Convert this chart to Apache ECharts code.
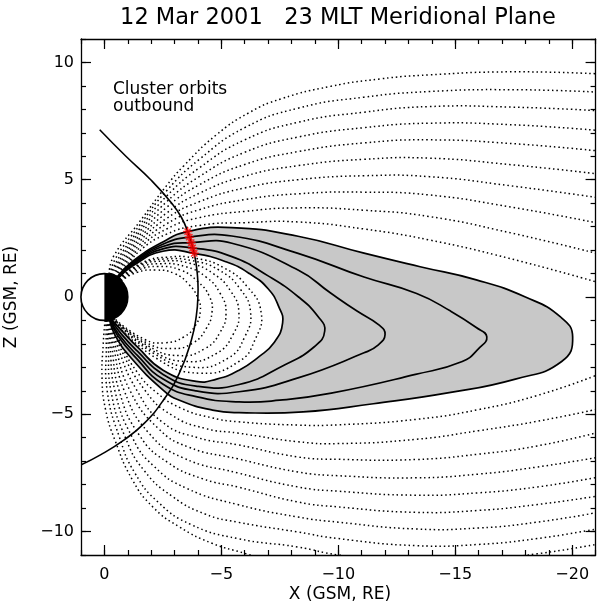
<!DOCTYPE html>
<html><head><meta charset="utf-8">
<script src="https://cdn.jsdelivr.net/npm/echarts@6/dist/echarts.min.js"></script>
<style>html,body{margin:0;padding:0;background:#fff}#c{width:597px;height:606px}</style>
</head><body><div id="c"></div>
<script>
// ---- tick values ----
const xMajorTicks = [-20, -15, -10, -5, 0];
const xMinorTicks = [-21,-20,-19,-18,-17,-16,-15,-14,-13,-12,-11,-10,-9,-8,-7,-6,-5,-4,-3,-2,-1,0,1];
const yMajorTicks = [-10, -5, 0, 5, 10];
const yMinorTicks = [-11,-10,-9,-8,-7,-6,-5,-4,-3,-2,-1,0,1,2,3,4,5,6,7,8,9,10,11];

// ---- Earth ----
const earthCenter = [0, 0];
const earthRadius = [1];

// ---- Cluster orbit arc and spacecraft positions ----
const orbitArc = [[0.2,7.13],[-0.92,6.0],[-1.98,5.0],[-2.88,4.0],[-3.29,3.4],[-3.56,2.79],[-3.84,1.86],[-3.98,0.9],[-4.0,0.1],[-3.93,-0.8],[-3.72,-1.83],[-3.2,-3.26],[-2.52,-4.4],[-1.7,-5.39],[-0.83,-6.1],[0.17,-6.73],[1.03,-7.17]];
const clusterMarkers = [[-3.56,2.79],[-3.63,2.55],[-3.71,2.32],[-3.77,2.09],[-3.84,1.86]];

// ---- solid field lines through the spacecraft (inner S1 -> outer S5) ----
const solidS1 = [[-0.6,0.8],[-1.2,1.32],[-2.5,1.95],[-3.84,1.86],[-5.2,1.5],[-6.2,1.0],[-7.0,0.35],[-7.45,-0.4],[-7.62,-1.1],[-7.25,-1.95],[-6.6,-2.55],[-5.76,-3.12],[-4.8,-3.5],[-3.92,-3.6],[-2.51,-3.12],[-1.4,-2.12],[-0.8,-1.5],[-0.3,-0.955]];
const solidS2 = [[-0.58,0.815],[-1.2,1.37],[-2.5,2.05],[-3.77,2.09],[-5.45,1.72],[-7.0,0.9],[-8.3,0.0],[-9.15,-0.85],[-9.42,-1.45],[-9.0,-2.1],[-7.7,-2.9],[-5.76,-3.73],[-3.92,-3.8],[-2.51,-3.3],[-1.4,-2.3],[-0.7,-1.55],[-0.28,-0.96]];
const solidS3 = [[-0.565,0.825],[-1.2,1.42],[-2.5,2.15],[-3.71,2.32],[-5.45,2.29],[-8.28,1.15],[-9.67,0.17],[-10.8,-0.6],[-11.75,-1.2],[-12.0,-1.6],[-11.7,-2.05],[-11.1,-2.38],[-8.28,-3.45],[-5.76,-4.04],[-3.92,-4.0],[-2.51,-3.5],[-1.4,-2.48],[-0.62,-1.6],[-0.26,-0.966]];
const solidS4 = [[-0.55,0.835],[-1.2,1.47],[-2.5,2.25],[-3.63,2.55],[-5.45,2.6],[-8.28,1.86],[-11.1,0.85],[-13.35,0.15],[-14.8,-0.6],[-15.9,-1.3],[-16.35,-1.7],[-16.0,-2.2],[-15.3,-2.75],[-13.3,-3.3],[-9.7,-4.1],[-7.5,-4.4],[-5.76,-4.47],[-3.92,-4.25],[-2.51,-3.72],[-1.4,-2.65],[-0.55,-1.62],[-0.24,-0.971]];
const solidS5 = [[-0.535,0.845],[-1.2,1.52],[-2.5,2.35],[-3.56,2.79],[-5.45,2.96],[-8.28,2.59],[-11.1,1.87],[-13.5,1.29],[-15.9,0.73],[-18.0,0.0],[-19.5,-0.85],[-20.02,-1.7],[-19.55,-2.75],[-17.57,-3.5],[-14.74,-4.08],[-11.5,-4.55],[-8.5,-4.9],[-5.76,-4.93],[-4.62,-4.82],[-3.21,-4.4],[-2.51,-3.97],[-1.1,-2.55],[-0.45,-1.62],[-0.22,-0.976]];

// ---- dotted closed field lines inside S1 ----
const closedC1 = [[-0.72,0.69],[-1.4,1.05],[-2.2,1.15],[-3.0,1.0],[-3.6,0.55],[-4.0,-0.05],[-4.1,-0.6],[-3.9,-1.2],[-3.4,-1.7],[-2.6,-1.95],[-1.7,-1.8],[-0.42,-0.91]];
const closedC2 = [[-0.7,0.71],[-1.45,1.15],[-2.3,1.3],[-3.25,1.15],[-4.0,0.65],[-4.5,0.0],[-4.6,-0.65],[-4.35,-1.35],[-3.8,-1.95],[-2.9,-2.2],[-1.8,-1.95],[-0.4,-0.92]];
const closedC3 = [[-0.68,0.73],[-1.5,1.25],[-2.4,1.42],[-3.45,1.3],[-4.35,0.85],[-4.95,0.15],[-5.2,-0.65],[-4.95,-1.5],[-4.3,-2.2],[-3.2,-2.5],[-1.9,-2.1],[-0.38,-0.93]];
const closedC4 = [[-0.66,0.75],[-1.55,1.35],[-2.5,1.53],[-3.6,1.45],[-4.65,1.0],[-5.4,0.25],[-5.75,-0.65],[-5.5,-1.6],[-4.8,-2.4],[-3.5,-2.75],[-2.0,-2.25],[-0.36,-0.93]];
const closedC5 = [[-0.64,0.77],[-1.6,1.42],[-2.6,1.62],[-3.75,1.55],[-4.9,1.15],[-5.8,0.35],[-6.25,-0.65],[-6.0,-1.7],[-5.3,-2.6],[-3.8,-3.0],[-2.1,-2.4],[-0.34,-0.94]];
const closedC6 = [[-0.62,0.78],[-1.65,1.48],[-2.7,1.7],[-3.9,1.65],[-5.1,1.25],[-6.1,0.45],[-6.7,-0.65],[-6.45,-1.8],[-5.75,-2.75],[-4.1,-3.25],[-2.2,-2.6],[-0.32,-0.95]];

// ---- dotted northern lobe lines ----
const northU1 = [[-0.52,0.855],[-0.9,1.2],[-1.5,1.96],[-2.66,2.68],[-4.05,3.05],[-6,3.17],[-8.28,3.2],[-11.1,2.9],[-13.9,2.43],[-17.3,1.65],[-21,0.65]];
const northU2 = [[-0.49,0.87],[-0.85,1.23],[-1.5,2.09],[-2.66,2.9],[-4.05,3.38],[-6,3.65],[-8.28,3.8],[-11.1,3.7],[-13.9,3.43],[-17.3,2.75],[-21,1.87]];
const northU3 = [[-0.46,0.888],[-0.8,1.28],[-1.5,2.22],[-2.66,3.12],[-4.05,3.72],[-6,4.15],[-8.28,4.4],[-11.1,4.47],[-13.9,4.35],[-17.3,3.85],[-21,3.17]];
const northU4 = [[-0.43,0.9],[-0.75,1.33],[-1.5,2.36],[-2.66,3.35],[-4.05,4.06],[-6,4.65],[-8.28,5.0],[-11.1,5.17],[-13.9,5.13],[-17.3,4.75],[-21,4.25]];
const northU5 = [[-0.4,0.915],[-0.7,1.38],[-1.5,2.49],[-2.66,3.58],[-4.05,4.42],[-6,5.15],[-8.28,5.6],[-11.1,5.87],[-13.9,5.92],[-17.3,5.65],[-21,5.26]];
const northU6 = [[-0.37,0.93],[-0.65,1.44],[-1.5,2.63],[-2.66,3.82],[-4.05,4.78],[-6,5.65],[-8.28,6.2],[-11.1,6.57],[-13.9,6.7],[-17.3,6.55],[-21,6.24]];
const northU7 = [[-0.33,0.944],[-0.6,1.5],[-1.5,2.77],[-2.66,4.06],[-4.05,5.13],[-6,6.17],[-8.28,6.82],[-11.1,7.22],[-13.9,7.41],[-17.3,7.35],[-21,7.11]];
const northU8 = [[-0.29,0.957],[-0.55,1.57],[-1.5,2.9],[-2.66,4.3],[-4.05,5.5],[-6,6.7],[-8.28,7.45],[-11.1,7.88],[-13.9,8.12],[-17.3,8.1],[-21,7.95]];
const northU9 = [[-0.25,0.968],[-0.48,1.65],[-1.5,3.05],[-2.66,4.53],[-4.05,5.86],[-6,7.22],[-8.28,8.05],[-11.1,8.52],[-13.9,8.76],[-17.3,8.84],[-21,8.74]];
const northU10 = [[-0.2,0.98],[-0.4,1.75],[-1.5,3.2],[-2.66,4.75],[-3.4,5.6],[-4.77,6.9],[-6.17,7.85],[-7.56,8.45],[-9.67,8.98],[-11.8,9.3],[-13.9,9.47],[-17.3,9.6],[-21,9.52]];

// ---- dotted southern lobe lines ----
const southL1 = [[-0.3,-0.95],[-0.7,-2],[-1.4,-3.2],[-2.2,-4.05],[-3.3,-4.75],[-4.6,-5.15],[-5.7,-5.32],[-8.28,-5.46],[-10,-5.45],[-13.3,-5.22],[-16,-4.8],[-18.5,-4.2],[-21,-3.35]];
const southL2 = [[-0.27,-0.96],[-0.6,-2],[-1.75,-4],[-2.9,-5.05],[-4.3,-5.6],[-5.7,-5.8],[-8.28,-6.17],[-10,-6.25],[-13.3,-6.07],[-16,-5.7],[-18.5,-5.3],[-21,-4.8]];
const southL3 = [[-0.24,-0.97],[-0.52,-2],[-1.4,-4],[-2.5,-5.35],[-4.0,-6.0],[-5.7,-6.3],[-8.28,-6.82],[-10,-6.92],[-13.3,-6.93],[-16,-6.7],[-18.5,-6.35],[-21,-5.8]];
const southL4 = [[-0.21,-0.98],[-0.44,-2],[-1.1,-4],[-2.3,-5.6],[-3.6,-6.4],[-5.7,-6.9],[-8.28,-7.46],[-10,-7.62],[-13.3,-7.71],[-16,-7.55],[-18.5,-7.25],[-21,-6.85]];
const southL5 = [[-0.18,-0.98],[-0.37,-2],[-0.85,-4],[-1.9,-5.8],[-3.35,-6.85],[-5.7,-7.5],[-8.28,-8.1],[-10,-8.28],[-13.3,-8.45],[-16,-8.35],[-18.5,-8.1],[-21,-7.7]];
const southL6 = [[-0.15,-0.99],[-0.3,-2],[-0.63,-4],[-1.5,-5.9],[-2.7,-7.05],[-4.2,-7.75],[-5.7,-8.1],[-8.28,-8.74],[-10,-8.95],[-13.3,-9.18],[-16,-9.1],[-18.5,-8.85],[-21,-8.5]];
const southL7 = [[-0.12,-0.99],[-0.23,-2],[-0.45,-4],[-1.2,-6.0],[-2.1,-7.2],[-3.5,-8.15],[-5.7,-8.85],[-8.28,-9.38],[-10,-9.6],[-13.3,-9.89],[-16,-9.85],[-18.5,-9.6],[-21,-9.2]];
const southL8 = [[-0.09,-1.0],[-0.16,-2],[-0.28,-4],[-0.9,-6.0],[-1.7,-7.4],[-2.9,-8.5],[-4.3,-9.25],[-5.7,-9.6],[-8.28,-10.02],[-10,-10.3],[-13.3,-10.6],[-16,-10.55],[-18.5,-10.3],[-21,-9.9]];
const southL9 = [[-0.06,-1.0],[-0.08,-2],[-0.12,-4],[-0.65,-6.0],[-1.3,-7.5],[-2.3,-8.75],[-3.7,-9.7],[-5.7,-10.3],[-8.28,-10.66],[-10,-11.0],[-13,-11.3],[-16,-11.2],[-18.5,-10.95],[-21,-10.55]];
const southL10 = [[-0.03,-1.0],[0.05,-2],[0.1,-3.5],[-0.05,-4.8],[-0.45,-6.1],[-1.2,-7.8],[-2.07,-8.95],[-3.2,-9.8],[-4.6,-10.5],[-6.0,-10.93],[-7.5,-11.4]];

// ---- build chart ----
const FONT = '"DejaVu Sans", sans-serif';
const INK = '#000';
const SMOOTH = 0.5;
const fmt = v => (v < 0 ? '\u2212' + (-v) : String(v));

const dottedStyle = { stroke: INK, lineWidth: 1.5, lineDash: [1.5, 2.9], fill: null };
const solidStyle = { stroke: INK, lineWidth: 1.7, fill: null };
const arcStyle = { stroke: INK, lineWidth: 1.6, fill: null };

const series = [];
// each group of curves drawn as smooth polylines placed through the cartesian axes
function addCurves(lines, style, z) {
  series.push({
    type: 'custom', coordinateSystem: 'cartesian2d', xAxisIndex: 0, yAxisIndex: 0,
    data: lines.map((l, i) => [l[0][0], l[0][1], i]),
    silent: true, z: z, animation: false, clip: true,
    renderItem: function (params, api) {
      const line = lines[api.value(2)];
      return { type: 'polyline', shape: { points: line.map(p => api.coord(p)), smooth: SMOOTH }, style: style };
    }
  });
}

// gray band between outer and inner solid lines
const bandPolygon = solidS5.concat(solidS1.slice().reverse());
series.push({
  type: 'custom', coordinateSystem: 'cartesian2d', xAxisIndex: 0, yAxisIndex: 0,
  data: [[0, 0]], silent: true, z: 1, animation: false, clip: true,
  renderItem: function (params, api) {
    const pts = bandPolygon.map(p => api.coord(p));
    return { type: 'polygon', shape: { points: pts, smooth: SMOOTH }, style: { fill: '#c8c8c8', stroke: null } };
  }
});

addCurves([closedC1, closedC2, closedC3, closedC4, closedC5, closedC6], dottedStyle, 2);
addCurves([northU1, northU2, northU3, northU4, northU5, northU6, northU7, northU8, northU9, northU10], dottedStyle, 2);
addCurves([southL1, southL2, southL3, southL4, southL5, southL6, southL7, southL8, southL9, southL10], dottedStyle, 2);
addCurves([solidS1, solidS2, solidS3, solidS4, solidS5], solidStyle, 3);
addCurves([orbitArc], arcStyle, 4);

// Earth
series.push({
  type: 'custom', coordinateSystem: 'cartesian2d', xAxisIndex: 0, yAxisIndex: 0,
  data: [earthCenter], silent: true, z: 5, animation: false,
  renderItem: function (params, api) {
    const c = api.coord(earthCenter);
    const s = api.size([earthRadius[0], earthRadius[0]]);
    const r = (s[0] + s[1]) / 2;
    return {
      type: 'group', children: [
        { type: 'circle', shape: { cx: c[0], cy: c[1], r: r }, style: { fill: '#fff', stroke: INK, lineWidth: 1.6 } },
        { type: 'sector', shape: { cx: c[0], cy: c[1], r0: 0, r: r, startAngle: -Math.PI / 2, endAngle: Math.PI / 2, clockwise: true }, style: { fill: INK } }
      ]
    };
  }
});

// Cluster spacecraft markers
series.push({
  type: 'scatter', data: clusterMarkers, xAxisIndex: 0, yAxisIndex: 0, z: 6, silent: true, animation: false,
  symbol: 'path://M5,0L5,10M0,5L10,5M1.5,1.5L8.5,8.5M1.5,8.5L8.5,1.5', symbolSize: 9,
  itemStyle: { color: 'none', borderColor: '#ff0000', borderWidth: 1.5 }
});

function xAxisDef(pos, major) {
  return {
    type: 'value', min: -21, max: 1, inverse: true, position: pos, gridIndex: 0,
    axisLine: { show: major, onZero: false, lineStyle: { color: INK, width: 1.3 } },
    axisTick: { show: true, inside: true, length: major ? 10 : 5, customValues: major ? xMajorTicks : xMinorTicks, lineStyle: { color: INK, width: 1.2 } },
    axisLabel: { show: major && pos === 'bottom', customValues: xMajorTicks, formatter: fmt, color: INK, fontSize: 16, fontFamily: FONT, margin: 12 },
    splitLine: { show: false }
  };
}
function yAxisDef(pos, major) {
  return {
    type: 'value', min: -11, max: 11, position: pos, gridIndex: 0,
    axisLine: { show: major, onZero: false, lineStyle: { color: INK, width: 1.3 } },
    axisTick: { show: true, inside: true, length: major ? 10 : 5, customValues: major ? yMajorTicks : yMinorTicks, lineStyle: { color: INK, width: 1.2 } },
    axisLabel: { show: major && pos === 'left', customValues: yMajorTicks, formatter: fmt, color: INK, fontSize: 16, fontFamily: FONT, margin: 7 },
    splitLine: { show: false }
  };
}

const chart = echarts.init(document.getElementById('c'), null, { renderer: 'canvas' });
chart.setOption({
  animation: false,
  backgroundColor: '#fff',
  grid: { left: 81, top: 39, width: 520, height: 516, containLabel: false },
  xAxis: [xAxisDef('bottom', true), xAxisDef('bottom', false), xAxisDef('top', true), xAxisDef('top', false)],
  yAxis: [yAxisDef('left', true), yAxisDef('left', false), yAxisDef('right', true), yAxisDef('right', false)],
  graphic: [
    { type: 'text', x: 338, y: 18, silent: true, style: { text: '12 Mar 2001   23 MLT Meridional Plane', fontSize: 22.5, fontFamily: FONT, fill: INK, align: 'center', verticalAlign: 'middle', textAlign: 'center', textVerticalAlign: 'middle' } },
    { type: 'text', x: 340, y: 595, silent: true, style: { text: 'X (GSM, RE)', fontSize: 17, fontFamily: FONT, fill: INK, align: 'center', verticalAlign: 'middle', textAlign: 'center', textVerticalAlign: 'middle' } },
    { type: 'text', x: 12, y: 297, rotation: Math.PI / 2, silent: true, style: { text: 'Z (GSM, RE)', fontSize: 17, fontFamily: FONT, fill: INK, align: 'center', verticalAlign: 'middle', textAlign: 'center', textVerticalAlign: 'middle' } },
    { type: 'text', x: 113, y: 81, silent: true, style: { text: 'Cluster orbits', fontSize: 17, fontFamily: FONT, fill: INK, align: 'left', verticalAlign: 'top' } },
    { type: 'text', x: 113, y: 98, silent: true, style: { text: 'outbound', fontSize: 17, fontFamily: FONT, fill: INK, align: 'left', verticalAlign: 'top' } }
  ],
  series: series
});
</script></body></html>
